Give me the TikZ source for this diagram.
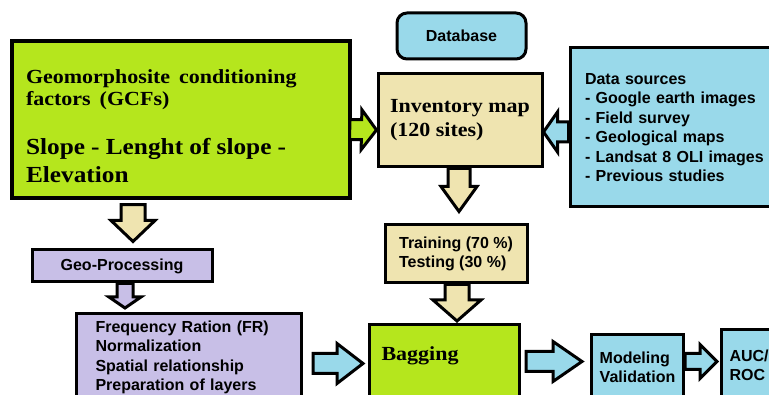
\documentclass[tikz,border=0pt]{standalone}
\usepackage{fontspec}
\setmainfont{Liberation Sans}
\newfontfamily\serifface[FakeStretch=1.1]{Liberation Serif}
\usetikzlibrary{calc}

\definecolor{limegr}{HTML}{B5E61D}
\definecolor{wheatc}{HTML}{EFE4B0}
\definecolor{lblue}{HTML}{99D9EA}
\definecolor{lavend}{HTML}{C8BFE7}

% fat block arrow: tail, tip, fill, shaft half width, head half width, head length
\newcommand{\blockarr}[6]{%
  \coordinate (ba-t) at (#1);
  \coordinate (ba-h) at (#2);
  \coordinate (ba-b) at ($(ba-h)!#6pt!(ba-t)$);
  \filldraw[arrowline, fill=#3]
    ($(ba-t)!#4pt!90:(ba-h)$) -- ($(ba-b)!#4pt!90:(ba-h)$) -- ($(ba-b)!#5pt!90:(ba-h)$) -- (ba-h)
    -- ($(ba-b)!#5pt!-90:(ba-h)$) -- ($(ba-b)!#4pt!-90:(ba-h)$) -- ($(ba-t)!#4pt!-90:(ba-h)$) -- cycle;}

\begin{document}
\begin{tikzpicture}[
    x=1pt, y=-1pt,
    box/.style={draw=black, line width=3pt, inner sep=0pt},
    sanstxt/.style={font=\bfseries\fontsize{16pt}{19.5pt}\selectfont},
    seriftxt/.style={font=\serifface\bfseries\fontsize{20pt}{24pt}\selectfont},
    arrowline/.style={draw=black, line width=3pt, line join=miter}
]
\useasboundingbox (0,0) rectangle (769,395);
\clip (0,0) rectangle (769,395);
\fill[white] (0,0) rectangle (769,395);

% Nodes
\node[box, fill=limegr, line width=3.5pt, minimum width=338pt, minimum height=157pt, text width=310pt, align=left, font=\serifface\bfseries] (gcf) at (181,119.5)
  {\fontsize{20pt}{22pt}\selectfont\spaceskip=.45em\relax\rule{0pt}{27pt}Geomorphosite conditioning\\ factors (GCFs)\\[20pt]
   \fontsize{23pt}{29pt}\selectfont\spaceskip=.27em\relax Slope - Lenght of slope -\\[6pt]Elevation};
\node[box, sanstxt, fill=lblue, rounded corners=10pt, minimum width=129pt, minimum height=46pt] (db) at (461.5,36) {Database};
\node[box, seriftxt, fill=wheatc, minimum width=164pt, minimum height=93pt, align=left] (inv) at (460,120.5) {Inventory map\\(120 sites)};
\node[box, sanstxt, fill=lblue, minimum width=240pt, minimum height=159pt, text width=210pt, align=left] (data) at (690,127.5)
  {Data sources\\- Google earth images\\- Field survey\\- Geological maps\\- Landsat 8 OLI images\\- Previous studies};
\node[box, sanstxt, fill=wheatc, minimum width=142pt, minimum height=58pt, align=left] (train) at (456,254) {Training (70 \%)\\Testing (30 \%)};
\node[box, seriftxt, fill=limegr, anchor=north west, inner xsep=12pt, inner ysep=22pt, text width=126pt, text depth=40pt] (bag) at (368,323) {Bagging};
\node[box, sanstxt, fill=lavend, minimum width=180pt, minimum height=32pt] (geo) at (122,266) {Geo-Processing};
\node[box, sanstxt, fill=lavend, anchor=north west, inner xsep=19pt, minimum height=88pt, text width=187pt, align=left] (freq) at (75,312)
  {Frequency Ration (FR)\\Normalization\\Spatial relationship\\Preparation of layers};
\node[box, sanstxt, fill=lblue, anchor=north west, minimum width=92pt, minimum height=66pt, align=left] (model) at (590,333) {Modeling\\Validation};
\node[box, sanstxt, fill=lblue, anchor=north west, inner xsep=8pt, minimum height=72pt, text width=80pt, align=left] (auc) at (720,328) {AUC/\\ROC};

% Block arrows
\blockarr{$(gcf.east)+(-2,10)$}{$(inv.west)+(0,9.5)$}{limegr}{10}{20}{15}
\blockarr{$(data.west)+(0,4.5)$}{$(inv.east)+(0,11.5)$}{lblue}{10}{20}{14}
\blockarr{$(inv.south)+(-1,0)$}{$(inv.south |- train.north)+(-1,-12)$}{wheatc}{11}{18}{25}
\blockarr{$(train.south)+(1,0)$}{$(train.south |- bag.north)+(1,-2)$}{wheatc}{12}{24}{21}
\blockarr{$(gcf.south -| geo.north)+(11,5)$}{$(geo.north)+(11,-7)$}{wheatc}{12}{22}{21}
\blockarr{$(geo.south)+(3,0)$}{$(geo.south |- freq.north)+(3,-4)$}{lavend}{8}{16}{11}
\blockarr{$(freq.east)+(10,6)$}{$(freq.east -| bag.west)+(-5,6)$}{lblue}{10}{20}{26}
\blockarr{$(bag.east |- model.west)+(5,-6)$}{$(model.west)+(-8,-6)$}{lblue}{10}{20}{29}
\blockarr{$(model.east)+(0,-6)$}{$(auc.west)+(-3,-4)$}{lblue}{8}{17}{17}

\end{tikzpicture}
\end{document}
